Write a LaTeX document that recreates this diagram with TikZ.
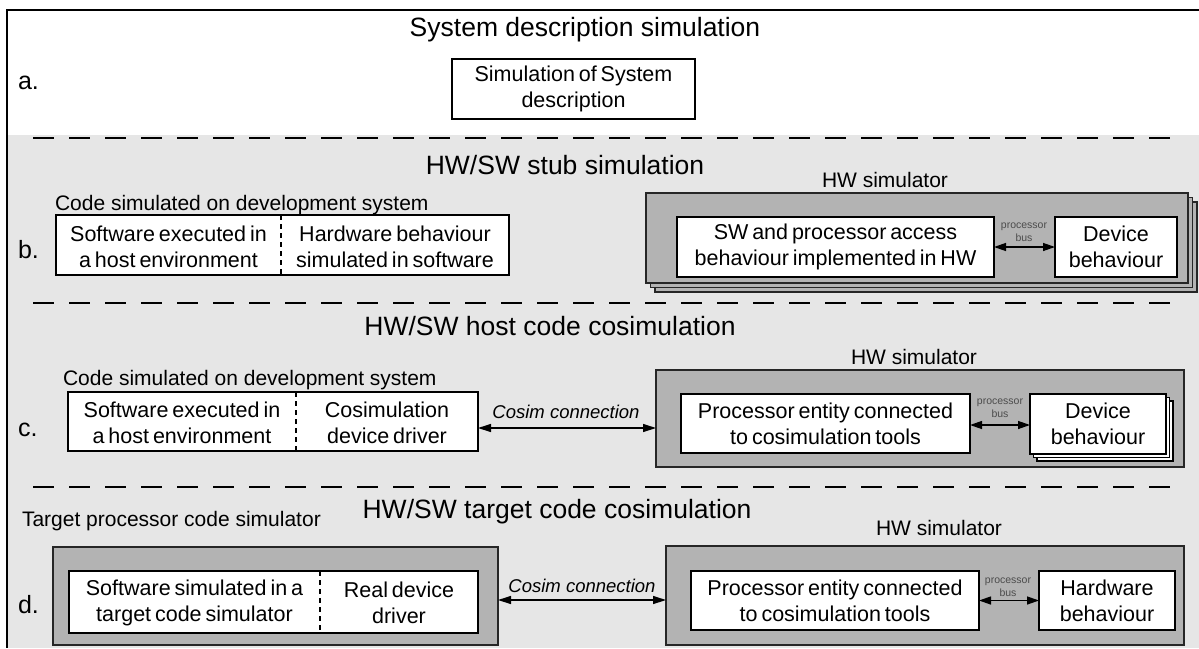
\documentclass[tikz,border=0pt]{standalone}
\usepackage{fontspec}
\setmainfont{Liberation Sans}
\newfontfamily\boxfont{Liberation Sans}[WordSpace=0.65]
\usetikzlibrary{arrows.meta,fit}
\definecolor{bandgray}{HTML}{E6E6E6}
\definecolor{boxgray}{HTML}{B3B3B3}
\tikzset{
  every node/.style={inner sep=0pt, outer sep=0pt},
  wbox/.style={draw=black, fill=white, line width=1.3pt},
  gbox/.style={draw=black!85, fill=boxgray, line width=1.3pt},
  btxt/.style={font=\boxfont\fontsize{21.5}{26}\selectfont, align=center},
  ttl/.style={font=\fontsize{26.5}{30}\selectfont},
  lbl/.style={font=\fontsize{21}{24}\selectfont},
  letter/.style={font=\fontsize{25}{28}\selectfont, anchor=west},
  busl/.style={font=\fontsize{10.5}{12.5}\selectfont, text=black!70, align=center},
  cosim/.style={font=\itshape\fontsize{18.5}{20}\selectfont},
  conn/.style={line width=1.3pt, {Triangle[length=13pt,width=8pt]}-{Triangle[length=13pt,width=8pt]}},
  busarr/.style={line width=1.3pt, {Triangle[length=12pt,width=8pt]}-{Triangle[length=12pt,width=8pt]}},
  sepline/.style={line width=1.3pt, dash pattern=on 21pt off 15pt},
  divider/.style={line width=1.1pt, dash pattern=on 5pt off 4pt},
}
\begin{document}
\begin{tikzpicture}[x=1pt,y=-1pt]
\useasboundingbox (0,0) rectangle (1199,648);
% background band and frame
\fill[bandgray] (6,135) rectangle (1199,648);
\draw[line width=1.5pt] (1199,10) -- (7,10) -- (7,648);
% separators
\draw[sepline] (33,138) -- (1184,138);
\draw[sepline] (33,303) -- (1184,303);
\draw[sepline] (33,487) -- (1184,487);
% titles
\node[ttl] (ta) at (585,30) {System description simulation};
\node[ttl] (tb) at (565,165) {HW/SW stub simulation};
\node[ttl] (tc) at (550,326) {HW/SW host code cosimulation};
\node[ttl] (td) at (557,512) {HW/SW target code cosimulation};
% letters
\node[letter] (la) at (18,83) {a.};
\node[letter] (lb) at (18,250) {b.};
\node[letter] (lc) at (18,430) {c.};
\node[letter] (ld) at (18,605) {d.};
% ---- a
\node[wbox, fit={(452,59) (695,119)}] (boxa) {};
\node[btxt] (boxat) at (boxa.center) {Simulation of System\\description};
% ---- b
\node[lbl, anchor=west] (codeb) at (55,205) {Code simulated on development system};
\node[wbox, fit={(56,215) (509,275)}] (boxb) {};
\coordinate (divb) at (281,0);
\draw[divider] (boxb.north -| divb) -- (boxb.south -| divb);
\node[btxt] (swb) at (168.5,247) {Software executed in\\a host environment};
\node[btxt] (hwswb) at (395,247) {Hardware behaviour\\simulated in software};
\node[gbox, fit={(655,202) (1197,292)}] (hwb3) {};
\node[gbox, fit={(650.5,197.5) (1192.5,287.5)}] (hwb2) {};
\node[gbox, fit={(646,193) (1188,283)}] (hwb) {};
\node[lbl] (hwbl) at (885,180) {HW simulator};
\node[wbox, fit={(677,217) (994,277)}] (swhw) {};
\node[btxt] (swhwt) at (swhw.center) {SW and processor access\\behaviour implemented in HW};
\node[wbox, fit={(1055,217) (1177,277)}] (devb) {};
\node[btxt] (devbt) at (devb.center) {Device\\behaviour};
\draw[busarr] (swhw) -- (devb);
\node[busl] (busb) at (1024,232) {processor\\bus};
% ---- c
\node[lbl, anchor=west] (codec) at (63,380) {Code simulated on development system};
\node[wbox, fit={(68,392) (478,451)}] (boxc) {};
\coordinate (divc) at (296,0);
\draw[divider] (boxc.north -| divc) -- (boxc.south -| divc);
\node[btxt] (swc) at (182,423) {Software executed in\\a host environment};
\node[btxt] (drvc) at (387,423) {Cosimulation\\device driver};
\node[gbox, fit={(656,370) (1184,467)}] (hwc) {};
\node[lbl] (hwcl) at (914,357) {HW simulator};
\node[wbox, fit={(681,394) (970,453)}] (procc) {};
\node[btxt] (procct) at (procc.center) {Processor entity connected\\to cosimulation tools};
\node[wbox, fit={(1037,401) (1173,461)}] (devc3) {};
\node[wbox, fit={(1033.5,397.5) (1169.5,457.5)}] (devc2) {};
\node[wbox, fit={(1030,394) (1166,454)}] (devc) {};
\node[btxt] (devct) at (devc.center) {Device\\behaviour};
\coordinate (ybc) at (0,425);
\draw[busarr] (procc.east |- ybc) -- (devc.west |- ybc);
\node[busl] (busc) at (1000,408) {processor\\bus};
\coordinate (ycc) at (0,428);
\draw[conn] (boxc.east |- ycc) -- (hwc.west |- ycc);
\node[cosim] (cosc) at (566,412) {Cosim connection};
% ---- d
\node[lbl, anchor=west] (tpcs) at (22,521) {Target processor code simulator};
\node[gbox, fit={(53,547) (498,645)}] (tgt) {};
\node[wbox, fit={(69,571) (478,633)}] (boxd) {};
\coordinate (divd) at (320,0);
\draw[divider] (boxd.north -| divd) -- (boxd.south -| divd);
\node[btxt] (swd) at (194.5,603) {Software simulated in a\\target code simulator};
\node[btxt] (drvd) at (399,603) {Real device\\driver};
\node[gbox, fit={(666,546) (1184,645)}] (hwd) {};
\node[lbl] (hwdl) at (939,528) {HW simulator};
\node[wbox, fit={(691,571) (979,630)}] (procd) {};
\node[btxt] (procdt) at (procd.center) {Processor entity connected\\to cosimulation tools};
\node[wbox, fit={(1039,571) (1175,630)}] (hwbeh) {};
\node[btxt] (hwbeht) at (hwbeh.center) {Hardware\\behaviour};
\draw[busarr] (procd) -- (hwbeh);
\node[busl] (busd) at (1008,587) {processor\\bus};
\coordinate (ycd) at (0,600);
\draw[conn] (tgt.east |- ycd) -- (hwd.west |- ycd);
\node[cosim] (cosd) at (582,586) {Cosim connection};
\end{tikzpicture}
\end{document}
